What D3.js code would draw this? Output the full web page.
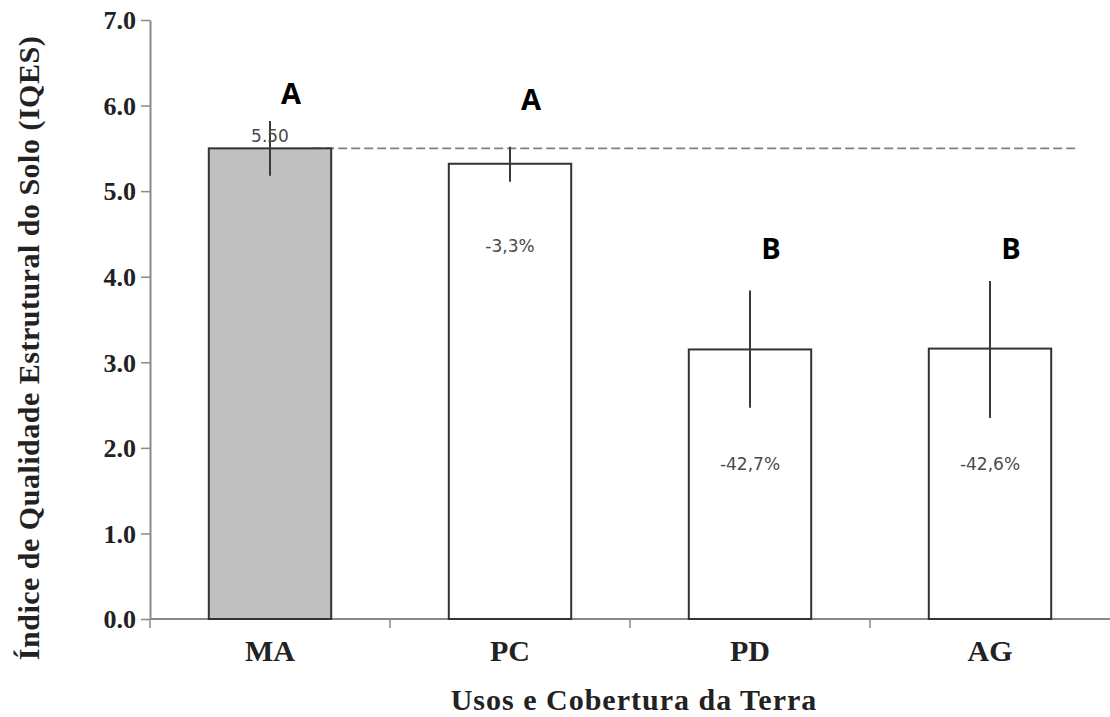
<!DOCTYPE html>
<html><head><meta charset="utf-8">
<script src="https://cdn.jsdelivr.net/npm/d3@7"></script>
<style>body{margin:0;background:#fff}</style>
</head><body>
<svg id="c" width="1110" height="717"></svg>
<script>
const categories = ["MA", "PC", "PD", "AG"];
const values = [5.50, 5.32, 3.15, 3.16];
const errLow = [5.18, 5.11, 2.47, 2.35];
const errHigh = [5.82, 5.52, 3.84, 3.95];
const letters = ["A", "A", "B", "B"];
const barLabels = ["5.50", "-3,3%", "-42,7%", "-42,6%"];
const yTicks = [0, 1, 2, 3, 4, 5, 6, 7];
const referenceValue = 5.50;

const svg = d3.select("#c");
const serif = "Liberation Serif, Times New Roman, serif";
const x = d3.scaleBand().domain(categories).range([150, 1110]).paddingInner(0.49).paddingOuter(0.245);
const xb = d3.scaleBand().domain(categories).range([150, 1110]).padding(0);
const y = d3.scaleLinear().domain([0, 7]).range([619, 20]);
const axisColor = "#8a8a8a";

// y axis
const ya = svg.append("g").attr("transform", "translate(150,0)")
  .call(d3.axisLeft(y).tickValues(yTicks).tickFormat(d3.format(".1f")).tickSize(9).tickSizeOuter(0));
ya.select(".domain").attr("stroke", axisColor).attr("stroke-width", 2);
ya.selectAll(".tick line").attr("stroke", axisColor).attr("stroke-width", 1.5);
ya.selectAll(".tick text").attr("font-family", serif)
  .attr("font-weight", "bold").attr("font-size", 26).attr("fill", "#222").attr("x", -14).attr("dy", "0.34em");

// x axis line & ticks at category boundaries
svg.append("line").attr("x1", 150).attr("x2", 1110).attr("y1", y(0)).attr("y2", y(0))
  .attr("stroke", axisColor).attr("stroke-width", 2);
svg.selectAll(".xt").data(categories.slice(1)).enter().append("line")
  .attr("x1", d => xb(d)).attr("x2", d => xb(d)).attr("y1", y(0)).attr("y2", y(0) + 9)
  .attr("stroke", axisColor).attr("stroke-width", 1.5);
svg.append("line").attr("x1", 150).attr("x2", 150).attr("y1", y(0)).attr("y2", y(0) + 9)
  .attr("stroke", axisColor).attr("stroke-width", 1.5);

// reference dashed line
svg.append("line").attr("x1", x("MA") + x.bandwidth() - 19).attr("x2", 1077)
  .attr("y1", y(referenceValue)).attr("y2", y(referenceValue))
  .attr("stroke", "#808080").attr("stroke-width", 1.8).attr("stroke-dasharray", "9,4");

// bars
svg.selectAll(".bar").data(categories).enter().append("rect")
  .attr("x", d => x(d)).attr("width", x.bandwidth())
  .attr("y", (d, i) => y(values[i])).attr("height", (d, i) => y(0) - y(values[i]))
  .attr("fill", (d, i) => i === 0 ? "#c0c0c0" : "#fff")
  .attr("stroke", "#333").attr("stroke-width", 2);

// error bars
svg.selectAll(".err").data(categories).enter().append("line")
  .attr("x1", d => x(d) + x.bandwidth() / 2).attr("x2", d => x(d) + x.bandwidth() / 2)
  .attr("y1", (d, i) => y(errHigh[i])).attr("y2", (d, i) => y(errLow[i]))
  .attr("stroke", "#3a3a3a").attr("stroke-width", 2);

// bar value labels
svg.selectAll(".bl").data(categories).enter().append("text")
  .attr("x", d => x(d) + x.bandwidth() / 2)
  .attr("y", (d, i) => i === 0 ? y(values[i]) - 6 : (i === 1 ? y(values[i]) + 88 : y(values[i]) + 121))
  .attr("text-anchor", "middle").attr("font-family", "DejaVu Sans, Verdana, sans-serif")
  .attr("font-size", 17).attr("fill", "#4a4a4a").text((d, i) => barLabels[i]);

// significance letters
svg.selectAll(".lt").data(categories).enter().append("text")
  .attr("x", d => x(d) + x.bandwidth() / 2 + 21)
  .attr("y", (d, i) => [104, 110, 259, 259][i])
  .attr("text-anchor", "middle").attr("font-family", "Open Sans, Liberation Sans, sans-serif")
  .attr("font-weight", "bold").attr("font-size", 29).attr("fill", "#000").text((d, i) => letters[i]);

// category labels
svg.selectAll(".cl").data(categories).enter().append("text")
  .attr("x", d => x(d) + x.bandwidth() / 2).attr("y", 661)
  .attr("text-anchor", "middle").attr("font-family", serif)
  .attr("font-weight", "bold").attr("font-size", 30).attr("fill", "#222").text(d => d);

// axis titles
svg.append("text").attr("x", 634).attr("y", 710).attr("text-anchor", "middle")
  .attr("font-family", serif).attr("font-weight", "bold").attr("letter-spacing", 1)
  .attr("font-size", 30).attr("fill", "#222").text("Usos e Cobertura da Terra");
svg.append("text").attr("transform", "translate(39,348) rotate(-90)").attr("text-anchor", "middle")
  .attr("font-family", serif).attr("font-weight", "bold").attr("letter-spacing", 0.5)
  .attr("font-size", 30).attr("fill", "#222").text("Índice de Qualidade Estrutural do Solo (IQES)");
</script>
</body></html>
